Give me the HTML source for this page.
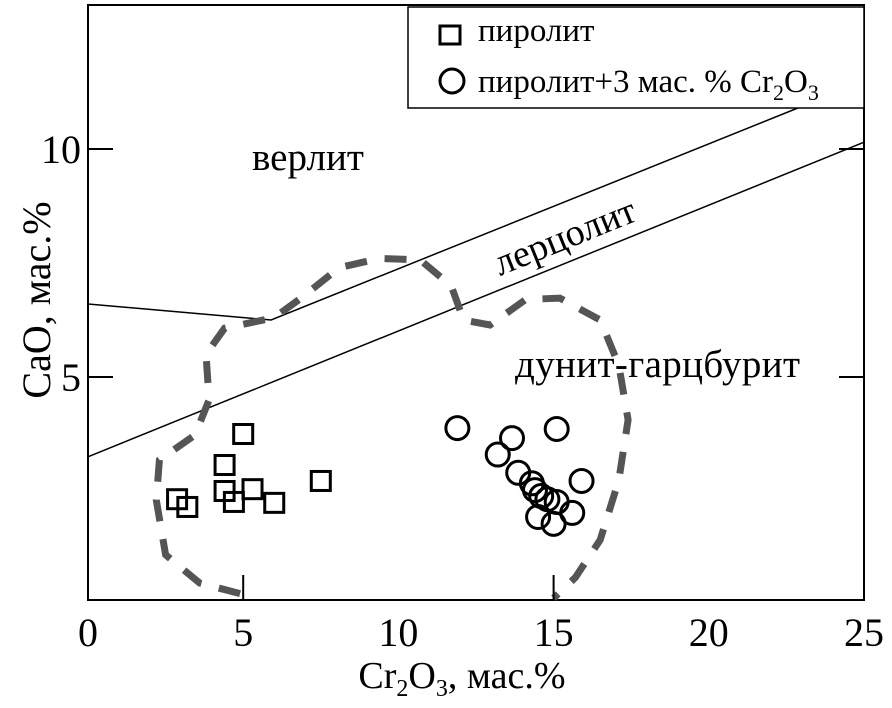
<!DOCTYPE html>
<html><head><meta charset="utf-8"><style>
body{margin:0;background:#fff}
svg{display:block;font-family:"Liberation Serif",serif}
</style></head><body>
<svg width="892" height="708" viewBox="0 0 892 708">
<g id="plot"></g>
<g>
<rect x="408" y="7" width="456" height="101" fill="#fff" stroke="#000" stroke-width="1.5"/>
<rect x="440" y="26" width="20" height="18" fill="none" stroke="#000" stroke-width="3"/>
<text x="478" y="41" font-size="33">пиролит</text>
<circle cx="452" cy="81" r="12" fill="none" stroke="#000" stroke-width="3"/>
<text x="478" y="92" font-size="33">пиролит+3 мас. % Cr<tspan font-size="22" dy="8">2</tspan><tspan dy="-8">O</tspan><tspan font-size="22" dy="8">3</tspan></text>
</g>
<text x="252" y="170" font-size="39">верлит</text>
<text x="0" y="0" font-size="38" transform="translate(500,276) rotate(-22)">лерцолит</text>
<text x="515" y="377" font-size="39" textLength="285">дунит-гарцбурит</text>
<text x="0" y="0" font-size="40" transform="translate(50,300) rotate(-90)" text-anchor="middle">CaO, мас.%</text>
<text x="462" y="688" font-size="38" text-anchor="middle">Cr<tspan font-size="24" dy="8">2</tspan><tspan dy="-8">O</tspan><tspan font-size="24" dy="8">3</tspan><tspan dy="-8">, мас.%</tspan></text>
</svg>
<script>
const xTicks=[0,5,10,15,20,25];
const yTicks=[5,10];
const squaresX=[5.0,4.4,2.87,3.2,4.4,4.7,5.3,6.0,7.5];
const squaresY=[3.75,3.07,2.32,2.15,2.5,2.26,2.54,2.24,2.72];
const circlesX=[11.9,13.66,13.2,15.1,15.9,13.86,14.3,14.4,14.6,14.8,15.1,15.6,14.5,15.0];
const circlesY=[3.88,3.66,3.3,3.86,2.72,2.9,2.67,2.52,2.39,2.32,2.26,2.02,1.93,1.78];
const contourX=[4.9,3.6,2.5,2.2,2.3,3.45,3.9,3.8,4.4,6.0,6.8,8.1,9.4,10.7,11.7,12.1,12.95,14.1,15.2,16.5,17.1,17.4,17.1,16.5,15.7,15.0];
const contourY=[0.25,0.48,1.1,2.3,3.18,3.73,4.5,5.5,6.07,6.3,6.7,7.4,7.6,7.57,7.0,6.25,6.14,6.7,6.73,6.25,5.26,4.06,2.74,1.43,0.6,0.15];
const upperLineX=[0,5.9,22.87];
const upperLineY=[6.6,6.25,10.9];
const lowerLineX=[0,25];
const lowerLineY=[3.25,10.15];

const X0=88,X1=864,YB=600,YT=5;
const sx=v=>X0+(X1-X0)*v/25;
const sy=v=>605-45.6*v;
const NS='http://www.w3.org/2000/svg';
const g=document.getElementById('plot');
function mk(tag,attrs){const e=document.createElementNS(NS,tag);for(const k in attrs)e.setAttribute(k,attrs[k]);g.appendChild(e);return e;}
function poly(xs,ys){return xs.map((x,i)=>sx(x).toFixed(1)+','+sy(ys[i]).toFixed(1)).join(' ');}

let e=mk('rect',{x:X0,y:YT,width:X1-X0,height:YB-YT,fill:'none',stroke:'#000','stroke-width':2});



e=mk('polyline',{points:poly(upperLineX,upperLineY),fill:'none',stroke:'#000','stroke-width':1.5});


e=mk('polyline',{points:poly(lowerLineX,lowerLineY),fill:'none',stroke:'#000','stroke-width':1.5});



e=mk('polyline',{points:poly(contourX,contourY),fill:'none',stroke:'#555','stroke-width':7,'stroke-dasharray':'22 18'});



xTicks.forEach(t=>{
  if(t>0&&t<25&&t%10==5){const l=mk('line',{x1:sx(t),x2:sx(t),y1:YB,y2:YB-25,stroke:'#000','stroke-width':2});
  
  }
  const tx=mk('text',{x:sx(t),y:646,'font-size':40,'text-anchor':'middle'});tx.textContent=t;
  
  
});
yTicks.forEach(t=>{
  const a=mk('line',{x1:X0,x2:X0+25,y1:sy(t),y2:sy(t),stroke:'#000','stroke-width':2});
  
  
  const b=mk('line',{x1:X1-25,x2:X1,y1:sy(t),y2:sy(t),stroke:'#000','stroke-width':2});
  
  
  const tx=mk('text',{x:X0-7,y:sy(t)+14,'font-size':40,'text-anchor':'end'});tx.textContent=t;
  
  
});
squaresX.forEach((x,i)=>{
  const r=mk('rect',{x:sx(x)-9.5,y:sy(squaresY[i])-9.5,width:19,height:19,fill:'none',stroke:'#000','stroke-width':3});
  
  
});
circlesX.forEach((x,i)=>{
  const c=mk('circle',{cx:sx(x),cy:sy(circlesY[i]),r:11.5,fill:'none',stroke:'#000','stroke-width':3});
  
  
});
</script>
</body></html>
